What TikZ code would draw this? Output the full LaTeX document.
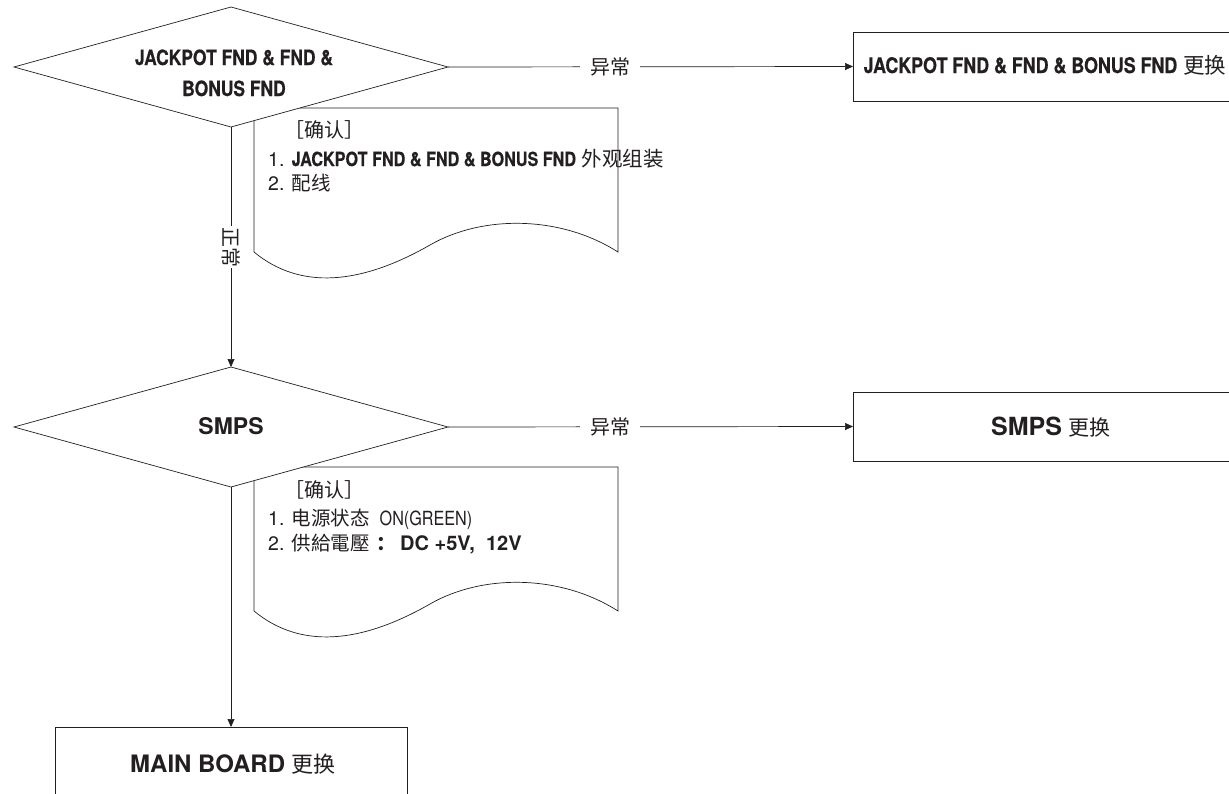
\documentclass[tikz,border=0pt]{standalone}
\usepackage{fontspec}
\setmainfont{TeX Gyre Heros}
\newfontfamily\cnd[FakeStretch=0.83, BoldFeatures={FakeBold=0.5}]{TeX Gyre Heros}
\newfontfamily\cjk{Noto Sans CJK SC}
\usetikzlibrary{shapes.geometric,arrows.meta}
\definecolor{ink}{RGB}{35,31,32}
\tikzset{
 dia/.style={draw=ink, diamond, minimum width=434pt, minimum height=120pt, inner sep=0pt, outer sep=0pt, fill=white, line width=0.7pt},
 boxnode/.style={draw=ink, rectangle, inner sep=0pt, outer sep=0pt, line width=0.7pt, fill=white},
 doc/.style={draw=ink, line width=0.7pt, fill=white},
 conn/.style={draw=ink, line width=0.7pt, -{Triangle[length=8pt,width=7pt]}},
 lbl/.style={fill=white, inner xsep=10pt, inner ysep=2pt, font=\cjk\fontsize{20}{20}\selectfont, text=ink},
 txt/.style={inner sep=0pt, text=ink},
}
\begin{document}
\begin{tikzpicture}[x=1pt,y=-1pt]
\clip (0,0) rectangle (1229,793);
\fill[white] (0,0) rectangle (1229,793);
% documents
\draw[doc] (254,108) -- (618,108) -- (618,252) .. controls (560,215) and (482,215) .. (430,245) .. controls (360,285) and (300,290) .. (254,252) -- cycle;
\begin{scope}[shift={(0,359)}]
\draw[doc] (254,108) -- (618,108) -- (618,252) .. controls (560,215) and (482,215) .. (430,245) .. controls (360,285) and (300,290) .. (254,252) -- cycle;
\end{scope}
% diamonds
\node[dia] (d1) at (231,67) {};
\node[dia] (d2) at (231,427) {};
\node[txt, anchor=base, font=\cnd\bfseries\fontsize{21}{21}\selectfont] (t1a) at (234,65) {JACKPOT FND \& FND \&};
\node[txt, anchor=base, font=\cnd\bfseries\fontsize{21}{21}\selectfont] (t1b) at (234,96) {BONUS FND};
\node[txt, anchor=base, font=\bfseries\fontsize{23}{23}\selectfont] (t2) at (231,434) {SMPS};
% boxes
\node[boxnode, minimum width=384pt, minimum height=69pt] (b1) at (1045,66.5) {};
\node[txt, anchor=base] (tb1) at (1045,73) {\fontsize{21.5}{21.5}\selectfont{\cnd\bfseries JACKPOT FND \& FND \& BONUS FND} {\cjk 更换}};
\node[boxnode, minimum width=396pt, minimum height=69pt] (b2) at (1051,426.5) {};
\node[txt, anchor=base] (tb2) at (1051,435) {\fontsize{25}{25}\selectfont{\bfseries SMPS} {\cjk\fontsize{21}{21}\selectfont 更换}};
\node[boxnode, minimum width=352pt, minimum height=70pt] (b3) at (231,762) {};
\node[txt, anchor=base] (tb3) at (233,772) {\fontsize{24}{24}\selectfont{\bfseries MAIN BOARD} {\cjk\fontsize{22}{22}\selectfont 更换}};
% connectors
\draw[conn] (d1.east) -- node[lbl, pos=0.4] (l1) {异常} (b1.west);
\draw[conn] (d2.east) -- node[lbl, pos=0.4] (l2) {异常} (b2.west);
\draw[conn] (d1.south) -- node[lbl, rotate=-90, inner xsep=1pt, inner ysep=1pt, pos=0.5] (l3) {正常} (d2.north);
\draw[conn] (d2.south) -- (b3.north);
% document texts
\node[txt, anchor=base west, font=\cjk\fontsize{20}{20}\selectfont] (c1a) at (284,137) {［确认］};
\node[txt, anchor=base west, font=\fontsize{19.5}{19.5}\selectfont] (c1b) at (268,166) {1. {\cnd\bfseries JACKPOT FND \& FND \& BONUS FND} {\cjk\fontsize{20.5}{20.5}\selectfont 外观组装}};
\node[txt, anchor=base west, font=\fontsize{19.5}{19.5}\selectfont] (c1c) at (268,190) {2. {\cjk 配线}};
\node[txt, anchor=base west, font=\cjk\fontsize{20}{20}\selectfont] (c2a) at (284,497) {［确认］};
\node[txt, anchor=base west, font=\fontsize{19.5}{19.5}\selectfont] (c2b) at (268,525) {1. {\cjk 电源状态}\hspace{10pt}{\cnd ON(GREEN)}};
\node[txt, anchor=base west, font=\fontsize{19.5}{19.5}\selectfont] (c2c) at (268,550) {2. {\cjk 供給電壓}\hspace{7pt}{\cjk\bfseries ：}\hspace{4pt}{\bfseries\fontsize{20}{20}\selectfont DC\ +5V,\ \ 12V}};
\end{tikzpicture}
\end{document}
